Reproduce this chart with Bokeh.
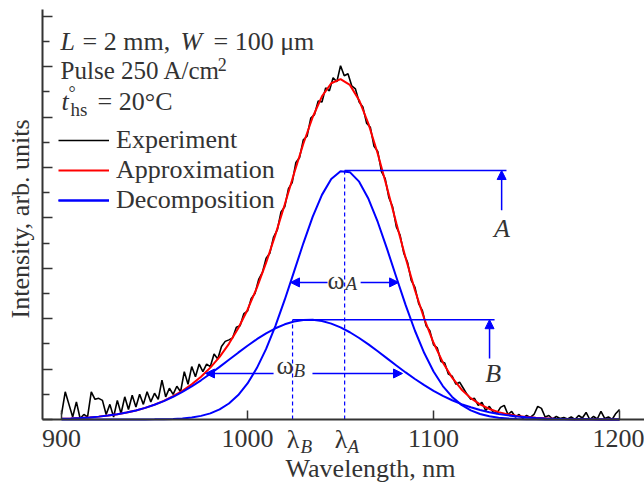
import numpy as np
from bokeh.plotting import figure
from bokeh.models import (Range1d, FixedTicker, Label, Arrow, NormalHead, Legend,
                          LegendItem, CustomJSTickFormatter)
from bokeh.embed import file_html
from bokeh.resources import INLINE

# ---------------- data ----------------
# experimental spectrum, sampled every 2 nm from 900 to 1200 nm
exp_wl = list(range(900, 1201, 2))
exp_int = [
    0.10, 0.55, 0.30, 0.05, 0.35, 0.02, 0.10, 0.05, 0.55, 0.40,
    0.42, 0.38, 0.10, 0.30, 0.05, 0.38, 0.12, 0.45, 0.20, 0.48,
    0.25, 0.50, 0.30, 0.55, 0.35, 0.52, 0.40, 0.78, 0.45, 0.62,
    0.50, 0.66, 0.55, 0.95, 0.70, 1.05, 0.85, 1.10, 0.95, 1.10,
    1.05, 1.30, 1.20, 1.45, 1.55, 1.58,
    1.62, 1.83, 1.86, 2.10, 2.15, 2.40, 2.50, 2.78, 2.92, 3.20,
    3.30, 3.62, 3.76, 4.12, 4.22, 4.58, 4.70, 5.10, 5.20, 5.55,
    5.62, 5.98, 6.05, 6.32, 6.30, 6.58, 6.52, 6.78, 6.70, 7.02,
    6.82, 6.86, 6.62, 6.56, 6.30, 6.20, 5.88, 5.80, 5.42, 5.32,
    4.92, 4.78, 4.40, 4.22, 3.82, 3.66, 3.30, 3.12, 2.76, 2.62,
    2.30, 2.16, 1.86, 1.76, 1.48, 1.42, 1.15, 1.12, 0.90, 0.86,
    0.70, 0.74, 0.62, 0.50, 0.40, 0.42, 0.28, 0.34, 0.18, 0.26,
    0.15, 0.12, 0.24, 0.28, 0.10, 0.16, 0.05, 0.10, 0.02, 0.08,
    0.04, 0.10, 0.26, 0.22, 0.05, 0.08, 0.01, 0.06, 0.02, 0.04,
    0.01, 0.05, 0.00, 0.08, 0.03, 0.14, 0.00, 0.06, 0.01, 0.16,
    0.02, 0.05, 0.00, 0.12, 0.20,
]

# fitted curves, sampled every 5 nm from 900 to 1200 nm
fit_wl = list(range(900, 1201, 5))
approx = [
    0.015, 0.021, 0.030, 0.041, 0.057, 0.078, 0.104, 0.137, 0.180, 0.231,
    0.295, 0.371, 0.463, 0.570, 0.698, 0.850, 1.029, 1.244, 1.502, 1.811,
    2.179, 2.613, 3.111, 3.668, 4.266, 4.880, 5.471, 5.997, 6.410, 6.672,
    6.753, 6.639, 6.336, 5.868, 5.273, 4.598, 3.894, 3.203, 2.564, 1.999,
    1.522, 1.133, 0.829, 0.596, 0.424, 0.299, 0.209, 0.146, 0.102, 0.071,
    0.049, 0.034, 0.024, 0.016, 0.011, 0.007, 0.005, 0.003, 0.002, 0.001,
    0.001,
]
comp_A = [
    0.000, 0.000, 0.000, 0.000, 0.000, 0.000, 0.000, 0.000, 0.001, 0.001,
    0.003, 0.006, 0.012, 0.022, 0.041, 0.072, 0.122, 0.200, 0.317, 0.485,
    0.716, 1.020, 1.401, 1.858, 2.377, 2.935, 3.496, 4.019, 4.457, 4.770,
    4.926, 4.908, 4.719, 4.378, 3.919, 3.385, 2.822, 2.269, 1.761, 1.318,
    0.953, 0.664, 0.447, 0.290, 0.182, 0.110, 0.064, 0.036, 0.020, 0.010,
    0.005, 0.003, 0.001, 0.000, 0.000, 0.000, 0.000, 0.000, 0.000, 0.000,
    0.000,
]
comp_B = [
    0.015, 0.021, 0.030, 0.041, 0.057, 0.078, 0.104, 0.137, 0.179, 0.230,
    0.292, 0.365, 0.451, 0.548, 0.657, 0.778, 0.907, 1.044, 1.185, 1.326,
    1.463, 1.593, 1.710, 1.810, 1.889, 1.945, 1.975, 1.978, 1.953, 1.902,
    1.827, 1.731, 1.617, 1.490, 1.354, 1.213, 1.072, 0.934, 0.803, 0.681,
    0.569, 0.469, 0.382, 0.306, 0.242, 0.189, 0.145, 0.110, 0.082, 0.061,
    0.044, 0.032, 0.022, 0.016, 0.011, 0.007, 0.005, 0.003, 0.002, 0.001,
    0.001,
]

# decomposition parameters shown on the chart
lam_A, lam_B = 1052.2, 1024.2          # nm
amp_A, amp_B = 4.94, 1.98              # arb. units
wA_level, wA_left, wA_right = 2.72, 1023.1, 1081.2
wB_level, wB_left, wB_right = 0.913, 977.4, 1083.3

x_ticks = [900, 1000, 1100, 1200]
y_major = [0, 1, 2, 3, 4, 5, 6, 7, 8]
y_minor = [0.5, 1.5, 2.5, 3.5, 4.5, 5.5, 6.5, 7.5]

# axis extents (data units)
X_AXIS = (889.8, 1213.4)
Y_AXIS = (0, 8.135)

# ---------------- figure ----------------
FONT = "Liberation Serif"
TXT = "#333333"
BLUE = "#0000ff"
RED = "#ff0000"
SHIFT = 7  # px, baseline correction for labels

p = figure(width=644, height=485, output_backend="svg", toolbar_location=None,
           x_range=Range1d(867.2, 1213.4), y_range=Range1d(-1.3095, 8.3135),
           min_border_left=0, min_border_right=0, min_border_top=0,
           min_border_bottom=0)
p.outline_line_color = None
p.grid.visible = False
p.background_fill_color = "white"

ax = p.xaxis[0]
ax.fixed_location = 0
ax.bounds = X_AXIS
ax.ticker = FixedTicker(ticks=x_ticks, minor_ticks=[])
ax.major_tick_in = 9
ax.major_tick_out = 0
ax.minor_tick_in = 0
ax.minor_tick_out = 0
ax.axis_line_width = 2
ax.axis_line_color = TXT
ax.major_tick_line_color = TXT
ax.major_tick_line_width = 1.5
ax.major_label_text_font = FONT
ax.major_label_text_font_size = "26px"
ax.major_label_text_color = TXT
ax.major_label_standoff = 10

ay = p.yaxis[0]
ay.fixed_location = X_AXIS[0]
ay.bounds = Y_AXIS
ay.ticker = FixedTicker(ticks=y_major, minor_ticks=y_minor)
ay.major_tick_in = 10
ay.major_tick_out = 0
ay.minor_tick_in = 7
ay.minor_tick_out = 0
ay.axis_line_width = 2
ay.axis_line_color = TXT
ay.major_tick_line_color = TXT
ay.minor_tick_line_color = TXT
ay.major_tick_line_width = 1.5
ay.minor_tick_line_width = 1.5
ay.formatter = CustomJSTickFormatter(code="return ''")
ay.major_label_standoff = 0

# curves
r_exp = p.line(exp_wl, exp_int, line_color="black", line_width=1.6)
r_app = p.line(fit_wl, approx, line_color=RED, line_width=2)
r_A = p.line(fit_wl, comp_A, line_color=BLUE, line_width=2)
r_B = p.line(fit_wl, comp_B, line_color=BLUE, line_width=2)

# marker lines
p.line([lam_A, lam_A], [0, amp_A], line_color=BLUE, line_width=1.2, line_dash="4 3")
p.line([lam_B, lam_B], [0, amp_B], line_color=BLUE, line_width=1.2, line_dash="4 3")
p.line([lam_A, 1139.2], [amp_A, amp_A], line_color=BLUE, line_width=1.5)
p.line([lam_B, 1132.8], [amp_B, amp_B], line_color=BLUE, line_width=1.5)


def arrow(x0, y0, x1, y1):
    p.add_layout(Arrow(end=NormalHead(size=9, fill_color=BLUE, line_color=BLUE, line_width=1),
                       x_start=x0, y_start=y0, x_end=x1, y_end=y1,
                       line_color=BLUE, line_width=1.5))


arrow(1136.6, 4.15, 1136.6, amp_A)
arrow(1130.1, 1.21, 1130.1, amp_B)
arrow(1043.0, wA_level, wA_left, wA_level)
arrow(1060.8, wA_level, wA_right, wA_level)
arrow(1014.0, wB_level, wB_left, wB_level)
arrow(1034.9, wB_level, wB_right, wB_level)


def lab(text, x, y, size=25, style="normal", align="left", angle=0, x_off=0):
    if angle:
        xo, yo = x_off - SHIFT, 0
    else:
        xo, yo = x_off, SHIFT
    p.add_layout(Label(x=x, y=y, text=text, text_font=FONT, text_font_size=f"{size}px",
                       text_font_style=style, text_color=TXT, text_align=align,
                       text_baseline="alphabetic", angle=angle,
                       x_offset=xo, y_offset=yo))


# header text
lab("L", 899.5, 7.36, 26, "italic")
lab("= 2 mm,", 911.3, 7.36, 26)
lab("W", 964.0, 7.36, 26, "italic")
lab("= 100 μm", 981.7, 7.36, 26)
lab("Pulse 250 A/cm", 899.5, 6.79, 25)
lab("2", 984.0, 6.90, 18)
lab("t", 900.0, 6.17, 26, "italic")
lab("°", 903.8, 6.33, 18)
lab("hs", 904.8, 6.01, 19)
lab("= 20°C", 919.4, 6.17, 26)

# annotation letters
lab("A", 1136.8, 3.65, 26, "italic", "center")
lab("B", 1132.0, 0.77, 26, "italic", "center")
lab("ω", 1047.6, 2.62, 26, align="center")
lab("A", 1047.6, 2.56, 19, "italic", x_off=9.5)
lab("ω", 1020.2, 0.93, 26, align="center")
lab("B", 1020.2, 0.83, 19, "italic", x_off=8.5)
lab("λ", 1024.5, -0.536, 26, align="center")
lab("B", 1024.5, -0.675, 19, "italic", x_off=7.5)
lab("λ", 1050.3, -0.536, 26, align="center")
lab("A", 1050.3, -0.675, 19, "italic", x_off=6.5)

# axis titles
lab("Wavelength, nm", 1066.1, -1.11, 26, align="center")
lab("Intensity, arb. units", 881.7, 3.98, 26, align="center", angle=np.pi / 2)

legend = Legend(items=[LegendItem(label="Experiment", renderers=[r_exp]),
                       LegendItem(label="Approximation", renderers=[r_app]),
                       LegendItem(label="Decomposition", renderers=[r_A, r_B])],
                location=(58, 270), orientation="vertical", padding=0, margin=0,
                spacing=0, glyph_width=51, glyph_height=20, label_standoff=7,
                label_height=20, label_text_font=FONT, label_text_font_size="26px",
                label_text_color=TXT, border_line_color=None,
                background_fill_alpha=0)
p.add_layout(legend)

open("out.html", "w").write(file_html(p, INLINE))
